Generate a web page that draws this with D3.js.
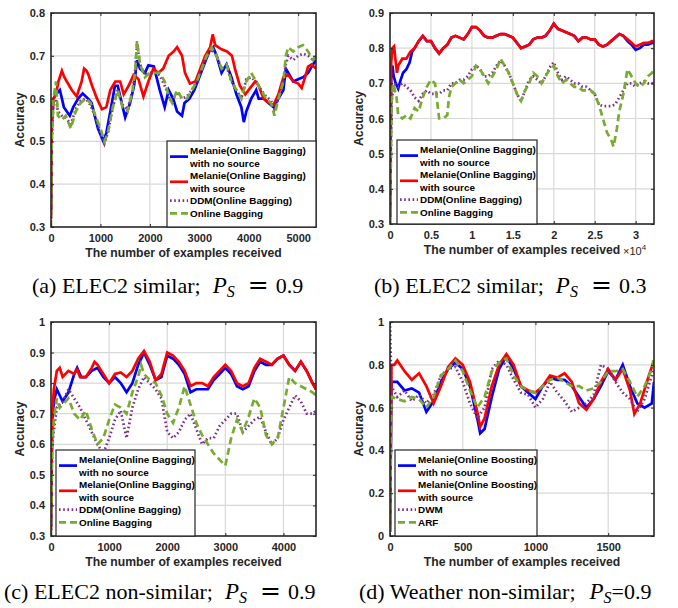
<!DOCTYPE html>
<html>
<head>
<meta charset="utf-8">
<script src="https://cdn.jsdelivr.net/npm/d3@7"></script>
<style>
  body { margin: 0; background: #fff; }
  svg { display: block; }
</style>
</head>
<body>
<svg id="chart" width="678" height="608"></svg>
<script>
// ---- data ----
const seriesColors = ["#0000ff", "#ff0000", "#7e2f8e", "#77ac30"];
const baggingLabels = [["Melanie(Online Bagging)", "with no source"], ["Melanie(Online Bagging)", "with source"], ["DDM(Online Bagging)"], ["Online Bagging"]];
const boostingLabels = [["Melanie(Online Boosting)", "with no source"], ["Melanie(Online Boosting)", "with source"], ["DWM"], ["ARF"]];

const ticksA = [0, 1000, 2000, 3000, 4000, 5000];
const yTicksA = [0.3, 0.4, 0.5, 0.6, 0.7, 0.8];
const blueA = [[0,0.34],[15,0.55],[50,0.6],[100,0.61],[180,0.62],[260,0.58],[380,0.56],[450,0.58],[550,0.6],[640,0.612],[750,0.6],[820,0.59],[950,0.53],[1060,0.5],[1120,0.52],[1200,0.57],[1293,0.63],[1350,0.63],[1450,0.58],[1500,0.556],[1600,0.59],[1680,0.63],[1740,0.69],[1800,0.67],[1900,0.66],[1970,0.678],[2080,0.675],[2200,0.62],[2300,0.58],[2380,0.62],[2470,0.6],[2550,0.57],[2650,0.56],[2700,0.59],[2800,0.6],[2900,0.62],[3000,0.65],[3100,0.68],[3200,0.71],[3280,0.72],[3350,0.7],[3450,0.66],[3550,0.68],[3650,0.65],[3750,0.61],[3850,0.58],[3900,0.545],[3950,0.57],[4050,0.6],[4150,0.62],[4200,0.6],[4300,0.6],[4400,0.59],[4500,0.58],[4600,0.6],[4700,0.62],[4750,0.67],[4800,0.66],[4900,0.64],[5000,0.645],[5100,0.65],[5200,0.66],[5300,0.68],[5360,0.69]];
const redA = [[0,0.32],[15,0.53],[50,0.6],[100,0.61],[150,0.64],[220,0.665],[270,0.65],[320,0.64],[420,0.62],[520,0.605],[620,0.64],[670,0.67],[720,0.665],[760,0.655],[830,0.63],[930,0.6],[1030,0.575],[1120,0.58],[1200,0.62],[1300,0.64],[1400,0.64],[1470,0.61],[1570,0.63],[1670,0.655],[1770,0.645],[1870,0.605],[1970,0.64],[2070,0.67],[2170,0.66],[2270,0.67],[2380,0.7],[2480,0.71],[2550,0.72],[2650,0.7],[2710,0.66],[2810,0.635],[2920,0.64],[3020,0.67],[3120,0.7],[3220,0.72],[3270,0.75],[3320,0.725],[3450,0.715],[3560,0.71],[3660,0.7],[3720,0.67],[3820,0.63],[3930,0.61],[4030,0.625],[4130,0.64],[4200,0.63],[4300,0.6],[4400,0.59],[4500,0.585],[4600,0.61],[4700,0.65],[4800,0.655],[4900,0.64],[5000,0.635],[5070,0.625],[5140,0.65],[5200,0.675],[5270,0.68],[5360,0.67]];
const purpleA = [[0,0.32],[15,0.5],[50,0.59],[100,0.6],[140,0.57],[220,0.56],[300,0.555],[400,0.54],[500,0.575],[600,0.595],[700,0.6],[800,0.585],[900,0.555],[1000,0.52],[1080,0.495],[1150,0.52],[1250,0.58],[1350,0.62],[1450,0.585],[1550,0.575],[1650,0.62],[1700,0.66],[1740,0.73],[1800,0.68],[1900,0.655],[2000,0.66],[2100,0.66],[2200,0.655],[2300,0.63],[2400,0.6],[2450,0.595],[2550,0.615],[2650,0.6],[2750,0.605],[2850,0.62],[2950,0.64],[3050,0.67],[3150,0.7],[3250,0.715],[3350,0.7],[3450,0.67],[3550,0.675],[3650,0.64],[3750,0.62],[3850,0.6],[3950,0.645],[4050,0.65],[4150,0.64],[4250,0.62],[4350,0.605],[4450,0.595],[4520,0.575],[4600,0.6],[4700,0.64],[4750,0.68],[4800,0.7],[4900,0.69],[5000,0.7],[5100,0.705],[5200,0.7],[5300,0.69],[5360,0.7]];
const greenA = [[0,0.3],[15,0.5],[50,0.6],[100,0.64],[140,0.56],[220,0.55],[300,0.56],[400,0.53],[500,0.57],[600,0.59],[700,0.6],[800,0.59],[900,0.56],[1000,0.53],[1080,0.5],[1150,0.52],[1250,0.58],[1350,0.62],[1450,0.58],[1550,0.57],[1650,0.62],[1700,0.66],[1740,0.735],[1800,0.68],[1900,0.65],[2000,0.66],[2100,0.66],[2200,0.66],[2300,0.64],[2400,0.6],[2450,0.59],[2550,0.62],[2650,0.6],[2750,0.6],[2850,0.62],[2950,0.64],[3050,0.67],[3150,0.7],[3250,0.72],[3350,0.7],[3450,0.67],[3550,0.68],[3650,0.64],[3750,0.62],[3850,0.6],[3950,0.64],[4050,0.66],[4150,0.64],[4250,0.62],[4350,0.6],[4450,0.59],[4520,0.56],[4600,0.6],[4700,0.64],[4750,0.7],[4800,0.72],[4900,0.71],[5000,0.72],[5100,0.725],[5200,0.71],[5300,0.69],[5360,0.7]];

const ticksB = [0, 5000, 10000, 15000, 20000, 25000, 30000];
const tickLabelsB = ["0", "0.5", "1", "1.5", "2", "2.5", "3"];
const yTicksB = [0.3, 0.4, 0.5, 0.6, 0.7, 0.8, 0.9];
const blueB = [[0,0.32],[150,0.74],[300,0.75],[450,0.72],[700,0.7],[1000,0.685],[1300,0.71],[1600,0.73],[2000,0.74],[2400,0.76],[2700,0.79],[3000,0.8],[3500,0.82],[4000,0.835],[4500,0.82],[5000,0.82],[5500,0.8],[6000,0.785],[6500,0.8],[7000,0.81],[7500,0.83],[8000,0.835],[8500,0.83],[9000,0.825],[9500,0.84],[10000,0.86],[10500,0.86],[11000,0.85],[11500,0.835],[12000,0.83],[12500,0.83],[13000,0.835],[13500,0.84],[14000,0.84],[14500,0.835],[15000,0.83],[15500,0.815],[16000,0.8],[16500,0.805],[17000,0.81],[17500,0.825],[18000,0.83],[18500,0.83],[19000,0.835],[19500,0.85],[20000,0.87],[20500,0.855],[21000,0.85],[21500,0.845],[22000,0.84],[22500,0.835],[23000,0.82],[23500,0.83],[24000,0.83],[24500,0.825],[25000,0.825],[25500,0.81],[26000,0.805],[26500,0.81],[27000,0.82],[27500,0.83],[28000,0.84],[28500,0.835],[29000,0.82],[29500,0.81],[30000,0.795],[30500,0.8],[31000,0.81],[31500,0.81],[32000,0.815],[32240,0.815]];
const redB = [[0,0.3],[150,0.76],[300,0.8],[500,0.805],[650,0.77],[850,0.73],[1000,0.75],[1500,0.77],[2000,0.77],[2500,0.79],[3000,0.8],[3500,0.82],[4000,0.835],[4500,0.82],[5000,0.82],[5500,0.8],[6000,0.785],[6500,0.8],[7000,0.81],[7500,0.83],[8000,0.835],[8500,0.83],[9000,0.825],[9500,0.84],[10000,0.86],[10500,0.86],[11000,0.85],[11500,0.835],[12000,0.83],[12500,0.83],[13000,0.835],[13500,0.84],[14000,0.84],[14500,0.835],[15000,0.83],[15500,0.815],[16000,0.8],[16500,0.805],[17000,0.81],[17500,0.825],[18000,0.83],[18500,0.83],[19000,0.835],[19500,0.85],[20000,0.87],[20500,0.855],[21000,0.85],[21500,0.845],[22000,0.84],[22500,0.835],[23000,0.82],[23500,0.83],[24000,0.83],[24500,0.825],[25000,0.825],[25500,0.81],[26000,0.805],[26500,0.81],[27000,0.82],[27500,0.83],[28000,0.84],[28500,0.835],[29000,0.825],[29500,0.815],[30000,0.805],[30500,0.81],[31000,0.815],[31500,0.815],[32000,0.82],[32240,0.82]];
const purpleB = [[0,0.32],[200,0.65],[500,0.7],[1000,0.69],[1500,0.7],[2000,0.69],[2500,0.68],[3000,0.66],[3500,0.65],[4000,0.67],[4500,0.68],[5000,0.67],[5500,0.67],[6000,0.67],[6500,0.68],[7000,0.68],[7500,0.7],[8000,0.7],[8500,0.71],[9000,0.71],[9500,0.72],[10000,0.74],[10500,0.75],[11000,0.74],[11500,0.72],[12000,0.72],[12500,0.73],[13000,0.75],[13500,0.765],[14000,0.75],[14500,0.73],[15000,0.7],[15500,0.67],[16000,0.65],[16500,0.68],[17000,0.71],[17500,0.72],[18000,0.71],[18500,0.7],[19000,0.72],[19500,0.745],[20000,0.76],[20500,0.73],[21000,0.71],[21500,0.72],[22000,0.71],[22500,0.7],[23000,0.7],[23500,0.69],[24000,0.69],[24500,0.68],[25000,0.67],[25500,0.64],[26000,0.635],[26500,0.635],[27000,0.635],[27500,0.64],[28000,0.66],[28500,0.68],[29000,0.7],[29500,0.7],[30000,0.69],[30500,0.7],[31000,0.705],[31500,0.7],[32000,0.7],[32240,0.705]];
const greenB = [[0,0.3],[200,0.65],[400,0.7],[800,0.66],[1000,0.61],[1500,0.6],[2000,0.61],[2500,0.6],[3000,0.63],[3500,0.62],[4000,0.66],[4500,0.69],[5000,0.71],[5500,0.7],[5700,0.66],[6000,0.6],[6500,0.6],[7000,0.61],[7200,0.66],[7500,0.69],[8000,0.7],[8500,0.71],[9000,0.7],[9500,0.71],[10000,0.72],[10500,0.75],[11000,0.74],[11500,0.72],[12000,0.7],[12500,0.72],[13000,0.74],[13500,0.77],[14000,0.75],[14500,0.73],[15000,0.7],[15500,0.67],[16000,0.65],[16500,0.68],[17000,0.7],[17500,0.73],[18000,0.72],[18500,0.7],[19000,0.72],[19500,0.74],[20000,0.75],[20500,0.72],[21000,0.7],[21500,0.71],[22000,0.7],[22500,0.69],[23000,0.69],[23500,0.68],[24000,0.68],[24500,0.68],[25000,0.67],[25500,0.64],[26000,0.6],[26500,0.56],[27000,0.54],[27300,0.52],[27700,0.57],[28000,0.62],[28500,0.67],[29000,0.74],[29500,0.72],[30000,0.7],[30500,0.69],[31000,0.7],[31500,0.72],[32000,0.73],[32240,0.74]];

const ticksC = [0, 1000, 2000, 3000, 4000];
const yTicksC = [0.3, 0.4, 0.5, 0.6, 0.7, 0.8, 0.9, 1];
const blueC = [[0,0.33],[20,0.68],[50,0.74],[100,0.78],[200,0.74],[300,0.77],[400,0.83],[450,0.85],[520,0.82],[600,0.82],[700,0.84],[800,0.85],[900,0.82],[1000,0.8],[1100,0.82],[1200,0.8],[1300,0.77],[1400,0.8],[1500,0.86],[1600,0.9],[1700,0.86],[1800,0.81],[1900,0.82],[2000,0.89],[2100,0.88],[2200,0.86],[2300,0.83],[2400,0.77],[2500,0.78],[2600,0.78],[2700,0.78],[2800,0.81],[2900,0.83],[3000,0.85],[3100,0.83],[3200,0.79],[3300,0.78],[3400,0.79],[3500,0.84],[3600,0.87],[3700,0.86],[3800,0.86],[3900,0.88],[4000,0.89],[4100,0.86],[4200,0.84],[4300,0.87],[4400,0.84],[4500,0.8],[4560,0.78]];
const redC = [[0,0.32],[20,0.7],[50,0.78],[100,0.84],[150,0.85],[200,0.82],[300,0.84],[400,0.83],[450,0.845],[500,0.82],[600,0.82],[700,0.85],[750,0.87],[800,0.86],[900,0.83],[1000,0.8],[1100,0.83],[1200,0.835],[1300,0.82],[1400,0.84],[1500,0.88],[1600,0.905],[1700,0.87],[1800,0.81],[1900,0.83],[2000,0.9],[2100,0.89],[2200,0.87],[2300,0.84],[2400,0.79],[2500,0.8],[2600,0.8],[2700,0.79],[2800,0.82],[2900,0.84],[3000,0.86],[3100,0.84],[3200,0.8],[3300,0.79],[3400,0.8],[3500,0.85],[3600,0.88],[3700,0.87],[3800,0.86],[3900,0.88],[4000,0.89],[4100,0.86],[4200,0.84],[4300,0.87],[4400,0.84],[4500,0.8],[4560,0.78]];
const purpleC = [[0,0.32],[20,0.6],[100,0.72],[200,0.74],[300,0.78],[400,0.75],[500,0.72],[600,0.68],[700,0.64],[800,0.6],[900,0.57],[1000,0.62],[1100,0.68],[1200,0.71],[1300,0.62],[1400,0.72],[1500,0.78],[1600,0.82],[1700,0.8],[1800,0.78],[1900,0.75],[2000,0.64],[2100,0.62],[2200,0.64],[2300,0.68],[2400,0.7],[2500,0.65],[2600,0.6],[2700,0.62],[2800,0.62],[2900,0.66],[3000,0.68],[3100,0.7],[3200,0.7],[3300,0.64],[3400,0.66],[3500,0.68],[3600,0.69],[3700,0.64],[3800,0.6],[3900,0.62],[4000,0.68],[4100,0.72],[4200,0.76],[4300,0.74],[4400,0.7],[4500,0.7],[4560,0.71]];
const greenC = [[0,0.3],[20,0.6],[60,0.7],[100,0.75],[150,0.72],[200,0.73],[300,0.75],[400,0.7],[500,0.68],[600,0.71],[700,0.65],[800,0.6],[900,0.62],[1000,0.68],[1100,0.73],[1200,0.72],[1300,0.7],[1400,0.77],[1500,0.82],[1550,0.86],[1600,0.83],[1700,0.81],[1800,0.8],[1900,0.76],[2000,0.7],[2100,0.67],[2200,0.72],[2300,0.79],[2400,0.73],[2500,0.67],[2600,0.63],[2700,0.6],[2800,0.57],[2900,0.55],[3000,0.53],[3100,0.62],[3200,0.68],[3300,0.64],[3400,0.69],[3500,0.75],[3600,0.72],[3700,0.63],[3800,0.6],[3900,0.62],[4000,0.72],[4100,0.82],[4200,0.8],[4300,0.79],[4400,0.78],[4500,0.77],[4560,0.76]];

const ticksD = [0, 500, 1000, 1500];
const yTicksD = [0, 0.2, 0.4, 0.6, 0.8, 1];
const blueD = [[0,0.02],[10,0.72],[50,0.72],[100,0.68],[150,0.69],[200,0.67],[250,0.58],[300,0.63],[350,0.72],[400,0.78],[450,0.81],[500,0.78],[550,0.7],[600,0.55],[620,0.48],[650,0.5],[700,0.65],[750,0.78],[800,0.84],[850,0.78],[900,0.7],[950,0.67],[1000,0.64],[1050,0.7],[1100,0.74],[1150,0.73],[1200,0.73],[1250,0.7],[1300,0.65],[1350,0.6],[1400,0.64],[1450,0.7],[1500,0.77],[1550,0.73],[1600,0.8],[1650,0.7],[1700,0.62],[1750,0.6],[1800,0.62],[1815,0.72]];
const redD = [[0,0.02],[10,0.8],[30,0.8],[50,0.82],[100,0.77],[150,0.73],[200,0.76],[250,0.7],[300,0.62],[350,0.7],[400,0.79],[450,0.83],[500,0.8],[550,0.72],[600,0.58],[620,0.51],[650,0.55],[700,0.7],[750,0.8],[800,0.85],[850,0.8],[900,0.7],[950,0.68],[1000,0.67],[1050,0.7],[1100,0.75],[1150,0.74],[1200,0.76],[1250,0.72],[1300,0.62],[1350,0.59],[1400,0.64],[1450,0.72],[1500,0.78],[1550,0.73],[1600,0.78],[1650,0.68],[1680,0.57],[1720,0.62],[1780,0.75],[1815,0.82]];
const purpleD = [[0,1],[10,0.7],[50,0.65],[100,0.68],[150,0.63],[200,0.66],[250,0.62],[300,0.66],[350,0.75],[400,0.78],[450,0.79],[500,0.72],[550,0.62],[600,0.55],[650,0.6],[700,0.78],[750,0.82],[800,0.8],[850,0.73],[900,0.67],[950,0.66],[1000,0.6],[1050,0.64],[1100,0.72],[1150,0.67],[1200,0.63],[1250,0.58],[1300,0.6],[1350,0.62],[1400,0.66],[1450,0.8],[1500,0.78],[1550,0.72],[1600,0.67],[1650,0.64],[1700,0.58],[1750,0.64],[1800,0.75],[1815,0.78]];
const greenD = [[0,0.02],[10,0.65],[50,0.64],[100,0.63],[150,0.65],[200,0.64],[250,0.6],[300,0.65],[350,0.75],[400,0.78],[450,0.82],[500,0.77],[550,0.68],[600,0.6],[650,0.65],[700,0.77],[750,0.81],[800,0.83],[850,0.75],[900,0.7],[950,0.68],[1000,0.67],[1050,0.7],[1100,0.73],[1150,0.74],[1200,0.72],[1250,0.7],[1300,0.7],[1350,0.68],[1400,0.69],[1450,0.72],[1500,0.77],[1550,0.77],[1600,0.78],[1650,0.72],[1700,0.65],[1750,0.7],[1800,0.78],[1815,0.84]];

// ---- drawing ----
const svg = d3.select("#chart");
const sans = "'Liberation Sans', Arial, Helvetica, sans-serif";
const serif = "'Liberation Serif', 'Times New Roman', serif";
const dashes = [null, null, "1.6,2.6", "7,4"];

function drawCaption(c) {
    const t = svg.append("text")
        .attr("x", c.x).attr("y", c.y)
        .style("font-family", serif).style("font-size", "22px").style("fill", "#000");
    t.append("tspan").text(c.pre);
    t.append("tspan").attr("dx", c.math ? 12 : 14).style("font-style", "italic").style("font-size", "23px").text("P");
    t.append("tspan").attr("dy", 4).style("font-style", "italic").style("font-size", "16px").text("S");
    if (c.math) {
        // display-math style: wide spaced "="
        t.append("tspan").attr("dy", -4).attr("dx", 13)
            .style("font-family", "'DejaVu Serif', serif").style("font-size", "25px").text("=");
        t.append("tspan").attr("dx", 7).text(c.value);
    } else {
        t.append("tspan").attr("dy", -4).text("=" + c.value);
    }
}

function drawPanel(cfg) {
    const x = d3.scaleLinear().domain(cfg.xDomain).range([cfg.left, cfg.right]);
    const y = d3.scaleLinear().domain(cfg.yDomain).range([cfg.bottom, cfg.top]);
    const g = svg.append("g");

    // grid
    g.append("g").selectAll("line").data(cfg.xTicks.filter(t => t > cfg.xDomain[0])).enter()
        .append("line")
        .attr("x1", d => x(d)).attr("x2", d => x(d))
        .attr("y1", cfg.top).attr("y2", cfg.bottom)
        .style("stroke", "#d8d8d8").style("stroke-width", 1.2);
    g.append("g").selectAll("line").data(cfg.yTicks.filter(t => t > cfg.yDomain[0] && t < cfg.yDomain[1])).enter()
        .append("line")
        .attr("y1", d => y(d)).attr("y2", d => y(d))
        .attr("x1", cfg.left).attr("x2", cfg.right)
        .style("stroke", "#d8d8d8").style("stroke-width", 1.2);

    // series
    const clipId = "clip-" + cfg.id;
    svg.append("defs").append("clipPath").attr("id", clipId)
        .append("rect")
        .attr("x", cfg.left).attr("y", cfg.top - 2)
        .attr("width", cfg.right - cfg.left).attr("height", cfg.bottom - cfg.top + 2);
    const line = d3.line().x(d => x(d[0])).y(d => y(d[1]));
    g.append("g").attr("clip-path", "url(#" + clipId + ")")
        .selectAll("path").data(cfg.series).enter()
        .append("path")
        .attr("d", d => line(d))
        .style("fill", "none")
        .style("stroke", (d, i) => seriesColors[i])
        .style("stroke-width", 2.7)
        .style("stroke-dasharray", (d, i) => dashes[i]);

    // axes (MATLAB style: box with inward ticks)
    const xAxis = d3.axisBottom(x).tickValues(cfg.xTicks).tickSizeInner(-3).tickSizeOuter(0)
        .tickPadding(7).tickFormat((d, i) => cfg.xTickLabels ? cfg.xTickLabels[i] : d3.format("d")(d));
    const yAxis = d3.axisLeft(y).tickValues(cfg.yTicks).tickSizeInner(-3).tickSizeOuter(0)
        .tickPadding(6).tickFormat(d => d === 0 || d === 1 ? String(d) : d3.format(".1f")(d));
    const xa = g.append("g").attr("transform", "translate(0," + cfg.bottom + ")").call(xAxis);
    const ya = g.append("g").attr("transform", "translate(" + cfg.left + ",0)").call(yAxis);
    g.append("g").attr("transform", "translate(0," + cfg.top + ")")
        .call(d3.axisTop(x).tickValues(cfg.xTicks).tickSizeInner(-3).tickSizeOuter(0).tickFormat(""));
    g.append("g").attr("transform", "translate(" + cfg.right + ",0)")
        .call(d3.axisRight(y).tickValues(cfg.yTicks).tickSizeInner(-3).tickSizeOuter(0).tickFormat(""));
    g.selectAll(".domain").remove();
    g.selectAll(".tick line").style("stroke", "#262626").style("stroke-width", 1);
    [xa, ya].forEach(a => a.selectAll("text")
        .style("font-family", sans).style("font-weight", "bold")
        .style("font-size", "11px").style("fill", "#262626"));

    g.append("rect")
        .attr("x", cfg.left).attr("y", cfg.top)
        .attr("width", cfg.right - cfg.left).attr("height", cfg.bottom - cfg.top)
        .style("fill", "none").style("stroke", "#262626").style("stroke-width", 1.6);

    // axis titles
    g.append("text")
        .attr("x", (cfg.left + cfg.right) / 2).attr("y", cfg.bottom + 30)
        .attr("text-anchor", "middle")
        .style("font-family", sans).style("font-weight", "bold").style("font-size", "12.2px")
        .style("fill", "#262626")
        .text("The number of examples received");
    g.append("text")
        .attr("transform", "translate(" + (cfg.left - 27) + "," + ((cfg.top + cfg.bottom) / 2) + ") rotate(-90)")
        .attr("text-anchor", "middle")
        .style("font-family", sans).style("font-weight", "bold").style("font-size", "12.2px")
        .style("fill", "#262626")
        .text("Accuracy");
    if (cfg.exponent) {
        const t = g.append("text")
            .attr("x", cfg.right - 31).attr("y", cfg.bottom + 31)
            .style("font-family", sans).style("font-size", "11px").style("fill", "#262626");
        t.append("tspan").text("\u00d710");
        t.append("tspan").attr("dy", -5).style("font-size", "8px").text(cfg.exponent);
    }

    // legend
    const lg = cfg.legend;
    const lgG = g.append("g");
    lgG.append("rect")
        .attr("x", lg.x).attr("y", lg.y).attr("width", lg.w).attr("height", cfg.bottom - lg.y)
        .style("fill", "#fff").style("stroke", "#262626").style("stroke-width", 1.2);
    let row = 0;
    cfg.labels.forEach((lab, i) => {
        const top = lg.y + 3 + row * 12.6;
        const mid = top + lab.length * 12.6 / 2;
        lgG.append("line")
            .attr("x1", lg.x + 3).attr("x2", lg.x + 21)
            .attr("y1", mid).attr("y2", mid)
            .style("stroke", seriesColors[i]).style("stroke-width", 2.7)
            .style("stroke-dasharray", dashes[i]);
        lab.forEach((s, k) => {
            lgG.append("text")
                .attr("x", lg.x + 23).attr("y", top + k * 12.6 + 10)
                .style("font-family", sans).style("font-weight", "bold").style("font-size", "9.9px")
                .style("fill", "#000")
                .text(s);
        });
        row += lab.length;
    });

    drawCaption(cfg.caption);
}

drawPanel({
    id: "a", left: 51, right: 316, top: 13, bottom: 227,
    xDomain: [0, 5360], yDomain: [0.3, 0.8], xTicks: ticksA, yTicks: yTicksA,
    series: [blueA, redA, purpleA, greenA], labels: baggingLabels,
    legend: { x: 167, y: 141, w: 149 },
    caption: { x: 32, y: 293, pre: "(a) ELEC2 similar;", value: "0.9", math: true }
});
drawPanel({
    id: "b", left: 390, right: 654, top: 13, bottom: 224,
    xDomain: [0, 32240], yDomain: [0.3, 0.9], xTicks: ticksB, xTickLabels: tickLabelsB, yTicks: yTicksB,
    series: [blueB, redB, purpleB, greenB], labels: baggingLabels, exponent: "4",
    legend: { x: 397, y: 140, w: 140 },
    caption: { x: 374, y: 293, pre: "(b) ELEC2 similar;", value: "0.3", math: true }
});
drawPanel({
    id: "c", left: 51, right: 316, top: 322, bottom: 536,
    xDomain: [0, 4560], yDomain: [0.3, 1], xTicks: ticksC, yTicks: yTicksC,
    series: [blueC, redC, purpleC, greenC], labels: baggingLabels,
    legend: { x: 56, y: 450, w: 139 },
    caption: { x: 4, y: 599, pre: "(c) ELEC2 non-similar;", value: "0.9", math: true }
});
drawPanel({
    id: "d", left: 390, right: 654, top: 322, bottom: 536,
    xDomain: [0, 1815], yDomain: [0, 1], xTicks: ticksD, yTicks: yTicksD,
    series: [blueD, redD, purpleD, greenD], labels: boostingLabels,
    legend: { x: 395, y: 450, w: 142 },
    caption: { x: 359, y: 599, pre: "(d) Weather non-similar;", value: "0.9", math: false }
});
</script>
</body>
</html>
